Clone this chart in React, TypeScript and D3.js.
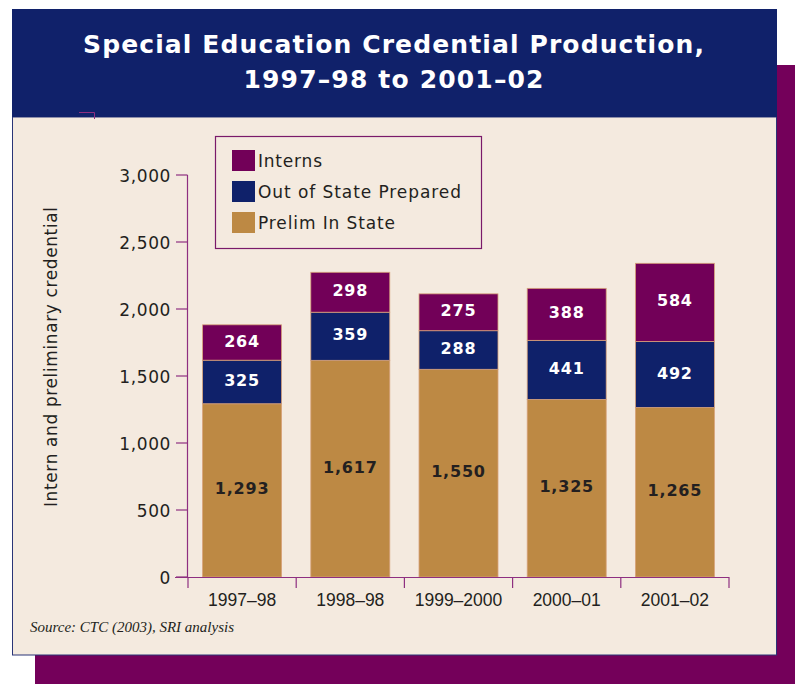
import React from "react";
import * as d3 from "d3";

const categories = ["1997–98", "1998–98", "1999–2000", "2000–01", "2001–02"];
const prelimInState = [1293, 1617, 1550, 1325, 1265];
const outOfState = [325, 359, 288, 441, 492];
const interns = [264, 298, 275, 388, 584];
const seriesNames = ["Prelim In State", "Out of State Prepared", "Interns"];
const yTicks = [0, 500, 1000, 1500, 2000, 2500, 3000];
const title1 = "Special Education Credential Production,";
const title2 = "1997–98 to 2001–02";
const yLabel = "Intern and preliminary credential";
const source = "Source: CTC (2003), SRI analysis";

const colors: Record<string, string> = {
  "Prelim In State": "#bd8944",
  "Out of State Prepared": "#0f216a",
  Interns: "#720058",
};
const labelColors: Record<string, string> = {
  "Prelim In State": "#231f20",
  "Out of State Prepared": "#ffffff",
  Interns: "#ffffff",
};

export default function App() {
  const W = 795, H = 684;
  const x0 = 188, x1 = 729, yTop = 175, yBottom = 577;
  const x = d3.scaleBand<string>().domain(categories).range([x0, x1]).paddingInner(0.27).paddingOuter(0.135);
  const y = d3.scaleLinear().domain([0, 3000]).range([yBottom, yTop]);

  const rows = categories.map((c, i) => ({
    cat: c,
    "Prelim In State": prelimInState[i],
    "Out of State Prepared": outOfState[i],
    Interns: interns[i],
  }));
  const stacked = d3.stack<any>().keys(seriesNames)(rows);
  const fmt = d3.format(",");
  const font = "'Liberation Sans', Arial, sans-serif";
  const wide = "'DejaVu Sans', Verdana, sans-serif";
  const axisColor = "#8e2f80";
  const step = (x1 - x0) / categories.length;
  const bounds = d3.range(categories.length + 1).map((i) => x0 + i * step);

  const legendItems = [
    { name: "Interns", y: 150, w: 64 },
    { name: "Out of State Prepared", y: 181, w: 203 },
    { name: "Prelim In State", y: 212, w: 137 },
  ];

  return (
    <svg width={W} height={H} style={{ position: "absolute", left: 0, top: 0 }} fontFamily={font}>
      <rect x={0} y={0} width={W} height={H} fill="#ffffff" />
      {/* shadow */}
      <rect x={777} y={65} width={18} height={619} fill="#74005a" />
      <rect x={35} y={655} width={760} height={29} fill="#74005a" />
      {/* panel */}
      <rect x={12.5} y={117} width={764} height={538} fill="#f4eadf" stroke="#2a3577" strokeWidth={1} />
      {/* header */}
      <rect x={12} y={9} width={765} height={108} fill="#10216a" />
      <path d="M79,112.5 H94.5 V119" fill="none" stroke="#8e2f80" strokeWidth={1} />
      <text x={393.5} y={53} textAnchor="middle" fill="#ffffff" fontFamily={wide} fontSize={25} fontWeight="bold" textLength={621} lengthAdjust="spacing">{title1}</text>
      <text x={393.5} y={88} textAnchor="middle" fill="#ffffff" fontFamily={wide} fontSize={25} fontWeight="bold" textLength={300} lengthAdjust="spacing">{title2}</text>

      {/* legend */}
      <rect x={215.5} y={136.5} width={266} height={112} fill="none" stroke="#7a1a6a" strokeWidth={1.2} />
      {legendItems.map((it) => (
        <g key={it.name}>
          <rect x={232} y={it.y} width={23} height={21} fill={colors[it.name]} />
          <text x={258} y={it.y + 17} fontFamily={wide} fontSize={17} fill="#231f20" textLength={it.w} lengthAdjust="spacing">{it.name}</text>
        </g>
      ))}

      {/* y axis */}
      <line x1={187.5} x2={187.5} y1={yTop} y2={yBottom} stroke={axisColor} strokeWidth={1.2} />
      {yTicks.map((t) => (
        <g key={t}>
          <line x1={176} x2={187.5} y1={y(t)} y2={y(t)} stroke={axisColor} strokeWidth={1.2} />
          <text x={171} y={y(t) + 6.5} textAnchor="end" fontFamily={wide} fontSize={17} fill="#231f20" letterSpacing={0.6}>{fmt(t)}</text>
        </g>
      ))}
      <text transform={`translate(57,357) rotate(-90)`} textAnchor="middle" fontFamily={wide} fontSize={17} fill="#231f20" textLength={300} lengthAdjust="spacing">{yLabel}</text>

      {/* bars */}
      {stacked.map((s) => (
        <g key={s.key}>
          {s.map((d, i) => {
            const cat = categories[i];
            const top = y(d[1]);
            const bot = y(d[0]);
            return (
              <g key={cat}>
                <rect x={x(cat)} y={top} width={x.bandwidth()} height={bot - top} fill={colors[s.key]} stroke="#d7a27a" strokeWidth={0.8} />
                <text x={(x(cat) as number) + x.bandwidth() / 2} y={(top + bot) / 2 + 4} textAnchor="middle" fontFamily={wide} fontSize={16} fontWeight="bold" fill={labelColors[s.key]} letterSpacing={0.8}>
                  {fmt(d[1] - d[0])}
                </text>
              </g>
            );
          })}
        </g>
      ))}

      {/* x axis */}
      <line x1={175} x2={x1} y1={yBottom + 0.5} y2={yBottom + 0.5} stroke={axisColor} strokeWidth={1.2} />
      {bounds.map((b, i) => (
        <line key={i} x1={b} x2={b} y1={yBottom} y2={yBottom + 11} stroke={axisColor} strokeWidth={1.2} />
      ))}
      {categories.map((c) => (
        <text key={c} x={(x(c) as number) + x.bandwidth() / 2} y={606} textAnchor="middle" fontSize={17.5} fill="#231f20">{c}</text>
      ))}

      <text x={30} y={632} fontSize={15} fontStyle="italic" fontFamily="'Liberation Serif', 'DejaVu Serif', serif" fill="#231f20">{source}</text>
    </svg>
  );
}
